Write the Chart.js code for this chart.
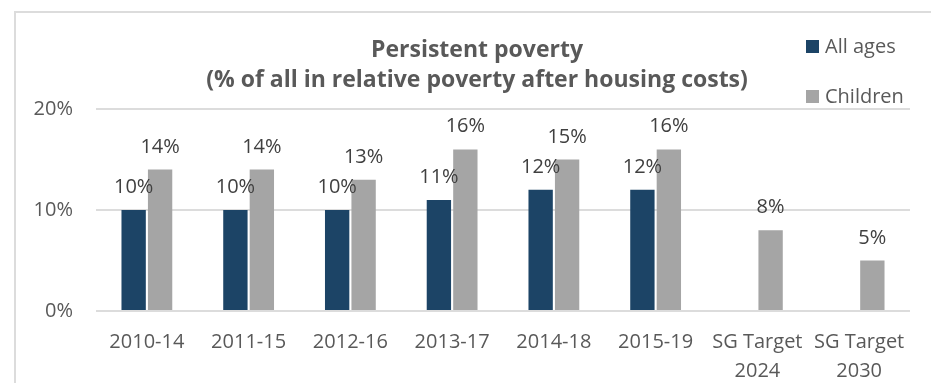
<!DOCTYPE html>
<html>
<head>
<meta charset="utf-8">
<script src="https://cdn.jsdelivr.net/npm/chart.js@4"></script>
<style>
  html, body { margin: 0; padding: 0; background: #fff; overflow: hidden; }
  #wrap { position: relative; width: 931px; height: 383px; }
  #frame { position: absolute; left: 14px; top: 11px; width: 940px; height: 400px;
           border-left: 2px solid #dcdcdc; border-top: 2px solid #dcdcdc; }
  canvas { position: absolute; left: 0; top: 0; }
</style>
</head>
<body>
<div id="wrap">
  <div id="frame"></div>
  <canvas id="chart" width="931" height="383"></canvas>
</div>
<script>
const categories = ["2010-14", "2011-15", "2012-16", "2013-17", "2014-18", "2015-19",
                    ["SG Target", "2024"], ["SG Target", "2030"]];
const allAges = [10, 10, 10, 11, 12, 12, null, null];
const children = [14, 14, 13, 16, 15, 16, 8, 5];
const titleLines = ["Persistent poverty", "(% of all in relative poverty after housing costs)"];

const FONT = "'Open Sans', sans-serif";

// value labels above each bar
const barLabels = {
    id: "barLabels",
    afterDatasetsDraw(chart) {
        const ctx = chart.ctx;
        ctx.save();
        ctx.font = "20px " + FONT;
        ctx.fillStyle = "#404040";
        ctx.textAlign = "center";
        ctx.textBaseline = "alphabetic";
        chart.data.datasets.forEach((ds, i) => {
            chart.getDatasetMeta(i).data.forEach((bar, j) => {
                if (ds.data[j] == null) return;
                ctx.fillText(ds.data[j] + "%", bar.x, bar.y - 17);
            });
        });
        ctx.restore();
    }
};

// title and legend drawn by hand so the plot area stays where it is
const decor = {
    id: "decor",
    afterDraw(chart) {
        const ctx = chart.ctx;
        ctx.save();
        ctx.fillStyle = "#595959";
        ctx.textAlign = "center";
        ctx.textBaseline = "alphabetic";
        ctx.font = "bold 23px " + FONT;
        ctx.fillText(titleLines[0], 477, 57);
        ctx.fillText(titleLines[1], 477, 87);

        ctx.font = "20px " + FONT;
        ctx.textAlign = "left";
        ctx.textBaseline = "middle";
        const rows = [47, 97];
        chart.data.datasets.forEach((ds, i) => {
            ctx.fillStyle = ds.backgroundColor;
            ctx.fillRect(806, rows[i] - 7, 13, 13);
            ctx.fillStyle = "#595959";
            ctx.fillText(ds.label, 825, rows[i]);
        });
        ctx.restore();
    }
};

new Chart(document.getElementById("chart").getContext("2d"), {
    type: "bar",
    data: {
        labels: categories,
        datasets: [
            { label: "All ages", data: allAges, backgroundColor: "#1c4466",
              categoryPercentage: 0.52, barPercentage: 0.92 },
            { label: "Children", data: children, backgroundColor: "#a5a5a5",
              categoryPercentage: 0.52, barPercentage: 0.92 }
        ]
    },
    options: {
        responsive: false,
        animation: false,
        layout: { padding: { top: 109, right: 21, left: 0, bottom: 0 } },
        plugins: {
            legend: { display: false },
            title: { display: false },
            tooltip: { enabled: false }
        },
        scales: {
            x: {
                grid: { display: false },
                border: { display: false },
                ticks: { color: "#595959", font: { family: FONT, size: 20, lineHeight: 1.45 }, padding: 9, maxRotation: 0 },
                afterFit(scale) { scale.height = 72; }
            },
            y: {
                min: 0, max: 20,
                grid: { color: "#dcdcdc", lineWidth: 2, drawTicks: false },
                border: { display: false },
                ticks: { stepSize: 10, color: "#595959", font: { family: FONT, size: 20 }, padding: 23,
                         callback: v => v + "%" },
                afterFit(scale) { scale.width = 96; }
            }
        }
    },
    plugins: [barLabels, decor]
});
</script>
</body>
</html>
